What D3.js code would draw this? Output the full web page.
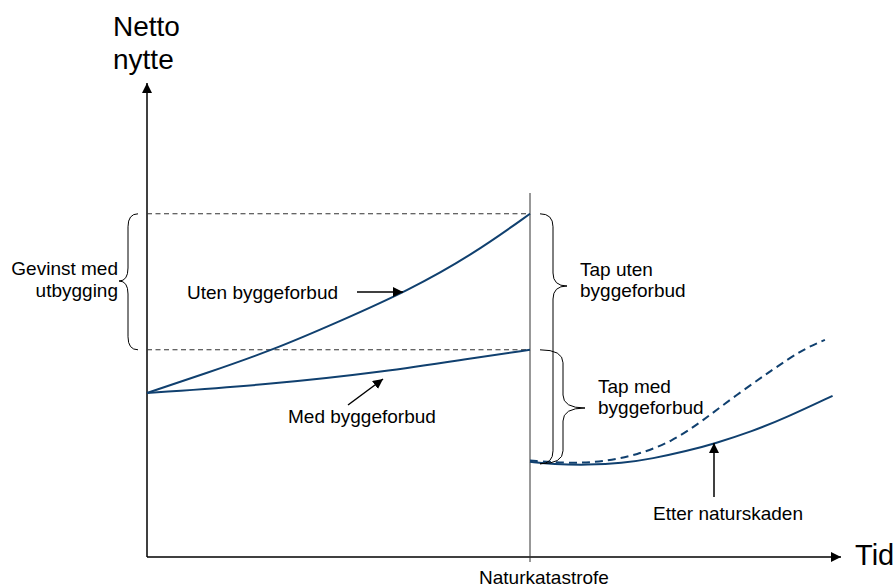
<!DOCTYPE html>
<html>
<head>
<meta charset="utf-8">
<script src="https://cdn.jsdelivr.net/npm/d3@7"></script>
<style>
  body { margin: 0; background: #fff; }
  svg { display: block; font-family: Arial, "Liberation Sans", sans-serif; }
</style>
</head>
<body>
<div id="chart-area"></div>
<script>
// time runs 0..100 before the disaster, disaster at 100
const utenX = [0, 15, 33, 50, 68, 85, 100];
const utenY = [41, 45.8, 51.8, 58.8, 66.5, 75.6, 85.8];
const medX = [0, 33, 62, 85, 100];
const medY = [41, 43.2, 46.3, 49.7, 51.8];
// after the disaster
const etterX = [100, 106, 115, 124, 132, 141, 148, 158, 167, 179];
const etterY = [23.8, 23.2, 23.0, 23.4, 24.6, 26.5, 28.3, 31.4, 34.9, 40.3];
const utenEtterX = [100, 110, 119, 128, 137, 145, 154, 163, 171, 177];
const utenEtterY = [24.1, 23.4, 23.8, 25.5, 28.8, 34.0, 40.6, 46.6, 51.8, 54.3];
const katastrofe = 100;

const width = 895;
const height = 588;
const navy = "#10406f";

const svg = d3.select("#chart-area")
  .append("svg")
  .attr("width", width)
  .attr("height", height);

const x = d3.scaleLinear().domain([0, 100]).range([147, 530]);
const y = d3.scaleLinear().domain([0, 100]).range([557, 157]);

const defs = svg.append("defs");
defs.append("marker")
  .attr("id", "arrow")
  .attr("viewBox", "0 0 10 10")
  .attr("refX", 10)
  .attr("refY", 5)
  .attr("markerWidth", 10)
  .attr("markerHeight", 10)
  .attr("markerUnits", "userSpaceOnUse")
  .attr("orient", "auto")
  .append("path")
  .attr("d", "M0,0 L10,5 L0,10 Z")
  .attr("fill", "#000");

// axes
svg.append("line")
  .attr("x1", x(0)).attr("y1", y(0))
  .attr("x2", 841).attr("y2", y(0))
  .attr("stroke", "#000").attr("stroke-width", 1.5)
  .attr("marker-end", "url(#arrow)");
svg.append("line")
  .attr("x1", x(0)).attr("y1", y(0))
  .attr("x2", x(0)).attr("y2", 83)
  .attr("stroke", "#000").attr("stroke-width", 1.5)
  .attr("marker-end", "url(#arrow)");

// disaster line
svg.append("line")
  .attr("x1", x(katastrofe)).attr("y1", 193)
  .attr("x2", x(katastrofe)).attr("y2", y(0) + 5)
  .attr("stroke", "#333").attr("stroke-width", 1);

// horizontal guides
const utenEnd = utenY[utenY.length - 1];
const medEnd = medY[medY.length - 1];
const etterStart = etterY[0];
[utenEnd, medEnd].forEach(v => {
  svg.append("line")
    .attr("x1", x(0)).attr("y1", y(v))
    .attr("x2", x(katastrofe)).attr("y2", y(v))
    .attr("stroke", "#333").attr("stroke-width", 1.1)
    .attr("stroke-dasharray", "5,3.5");
});

const line = d3.line()
  .x(d => x(d[0]))
  .y(d => y(d[1]))
  .curve(d3.curveBasis);

const curves = [
  { xs: utenX, ys: utenY, dash: null },
  { xs: medX, ys: medY, dash: null },
  { xs: etterX, ys: etterY, dash: null },
  { xs: utenEtterX, ys: utenEtterY, dash: "8,5" }
];
curves.forEach(c => {
  svg.append("path")
    .datum(d3.zip(c.xs, c.ys))
    .attr("d", line)
    .attr("fill", "none")
    .attr("stroke", navy)
    .attr("stroke-width", 2)
    .attr("stroke-dasharray", c.dash);
});

// curly braces
function brace(x0, xb, xt, y0, y1, ym) {
  const r = 13 * Math.sign(y1 - y0);
  return `M${x0},${y0} Q${xb},${y0} ${xb},${y0 + r} L${xb},${ym - r} Q${xb},${ym} ${xt},${ym}` +
    ` Q${xb},${ym} ${xb},${ym + r} L${xb},${y1 - r} Q${xb},${y1} ${x0},${y1}`;
}
const braces = [
  [138, 128, 119, y(utenEnd), y(medEnd), 281],
  [540, 553, 567, y(utenEnd), y(etterStart) + 2, 286],
  [540, 563, 585, y(medEnd), y(etterStart) + 2, 408]
];
braces.forEach(b => {
  svg.append("path")
    .attr("d", brace(...b))
    .attr("fill", "none")
    .attr("stroke", "#000")
    .attr("stroke-width", 1);
});

// pointer arrows
const pointers = [
  [357, 292, 403, 292],
  [348, 405, 383, 379],
  [714, 497, 714, 443]
];
pointers.forEach(p => {
  svg.append("line")
    .attr("x1", p[0]).attr("y1", p[1])
    .attr("x2", p[2]).attr("y2", p[3])
    .attr("stroke", "#000").attr("stroke-width", 1.5)
    .attr("marker-end", "url(#arrow)");
});

// labels
const labels = [
  { t: "Netto", x: 113, y: 36, s: 28 },
  { t: "nytte", x: 113, y: 69, s: 28 },
  { t: "Tid", x: 855, y: 565, s: 29 },
  { t: "Naturkatastrofe", x: x(katastrofe) + 14, y: 584, s: 19, a: "middle" },
  { t: "Gevinst med", x: 118, y: 275, s: 19, a: "end" },
  { t: "utbygging", x: 118, y: 297, s: 19, a: "end" },
  { t: "Uten byggeforbud", x: 187, y: 299, s: 19 },
  { t: "Med byggeforbud", x: 288, y: 423, s: 19 },
  { t: "Tap uten", x: 580, y: 276, s: 19 },
  { t: "byggeforbud", x: 580, y: 297, s: 19 },
  { t: "Tap med", x: 598, y: 393, s: 19 },
  { t: "byggeforbud", x: 598, y: 414, s: 19 },
  { t: "Etter naturskaden", x: 653, y: 520, s: 19 }
];
svg.selectAll("text.label")
  .data(labels)
  .enter()
  .append("text")
  .attr("class", "label")
  .attr("x", d => d.x)
  .attr("y", d => d.y)
  .attr("font-size", d => d.s + "px")
  .attr("text-anchor", d => d.a || "start")
  .attr("fill", "#000")
  .text(d => d.t);
</script>
</body>
</html>
